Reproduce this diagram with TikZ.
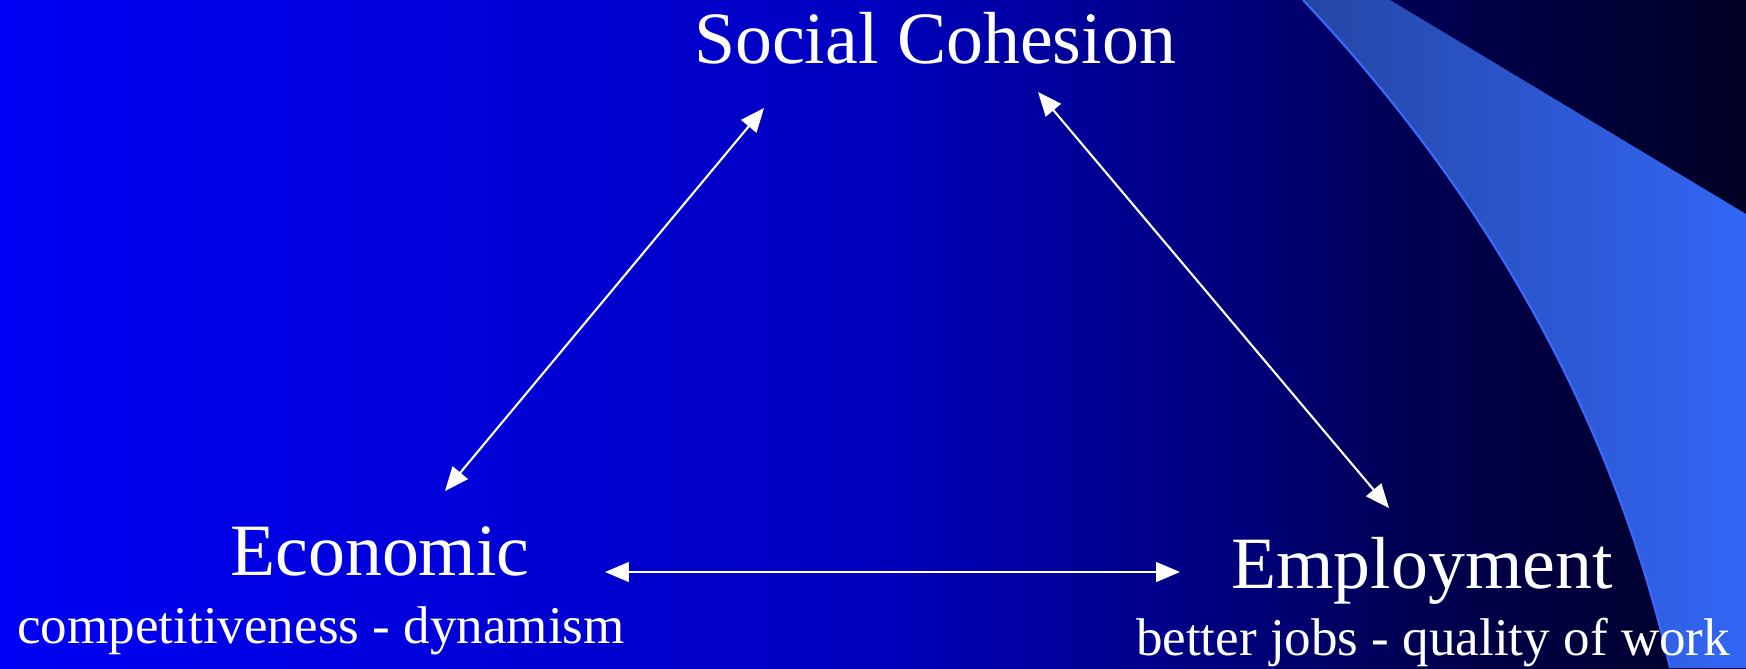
\documentclass[tikz,border=0pt]{standalone}
\usepackage{fontspec}
\setmainfont{Liberation Serif}
\usetikzlibrary{arrows.meta}

\definecolor{bandL}{RGB}{36,70,165}
\definecolor{bandR}{RGB}{50,102,245}
\definecolor{bandEdge}{RGB}{58,106,255}
\pgfdeclarehorizontalshading{slidebg}{100bp}{rgb(0bp)=(0,0,0.96); rgb(25bp)=(0,0,0.96); rgb(49.9bp)=(0,0,0.75); rgb(61.6bp)=(0,0,0.45); rgb(65.1bp)=(0,0,0.33); rgb(75bp)=(0,0,0.14); rgb(100bp)=(0,0,0.14)}

\begin{document}
\begin{tikzpicture}[
  x=0.1mm, y=0.1mm,
  title/.style={text=white, anchor=base, inner sep=0pt, font=\fontsize{21}{25}\selectfont},
  sub/.style  ={text=white, anchor=base, inner sep=0pt, font=\fontsize{15.1}{18}\selectfont},
  link/.style ={{Triangle[length=6.8pt,width=5.6pt]}-{Triangle[length=6.8pt,width=5.6pt]}, draw=white, line width=0.6pt},
]
\useasboundingbox (0,0) rectangle (1746,668);

% ---------- background ----------
\shade[shading=slidebg] (0,0) rectangle (1746,668);
\shade[left color=bandL, right color=bandR]
  (1303,668) .. controls (1480,480) and (1610,260) .. (1670,0)
  -- (1746,0) -- (1746,454) -- (1390,668) -- cycle;
\draw[bandEdge, line width=0.6pt]
  (1303,668) .. controls (1480,480) and (1610,260) .. (1670,0);

% ---------- labels ----------
\node[title] (social) at (935,605) {Social Cohesion};
\node[title] (econ)   at (380,93)  {Economic};
\node[sub]   (econs)  at (321,25)  {competitiveness - dynamism};
\node[title] (employ) at (1422,80) {Employment};
\node[sub]   (employs) at (1433,13) {better jobs - quality of work};

% ---------- arrow ends ----------
\coordinate (socL) at (764,560);
\coordinate (socR) at (1038,576);
\coordinate (ecoU) at (445,177);
\coordinate (ecoR) at (605,96);
\coordinate (empU) at (1389,160);
\coordinate (empL) at (1180,96);

% ---------- links ----------
\draw[link] (ecoU) -- (socL);
\draw[link] (socR) -- (empU);
\draw[link] (ecoR) -- (empL);

\end{tikzpicture}
\end{document}
